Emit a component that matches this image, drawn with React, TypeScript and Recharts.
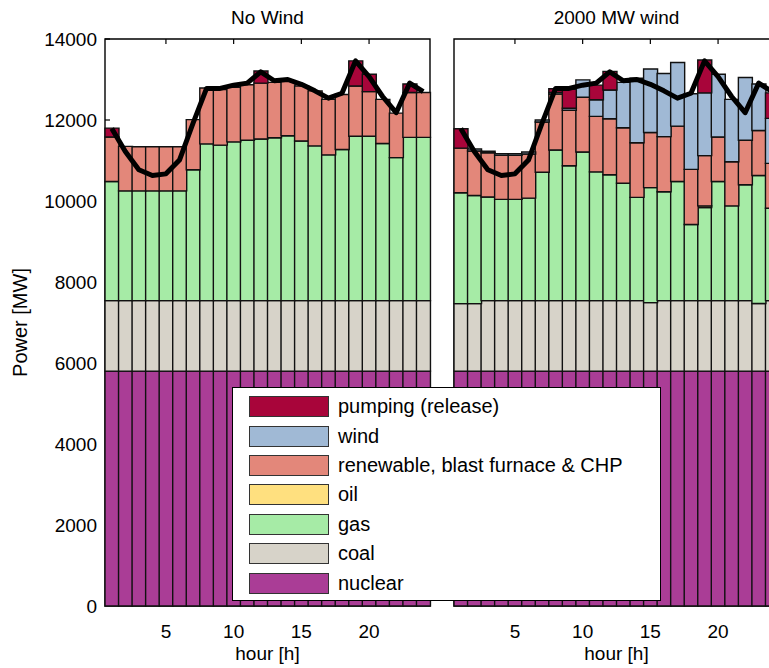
import { ComposedChart, Bar, Line, XAxis, YAxis, ReferenceArea, Legend } from 'recharts'

// hourly dispatch, MW per technology (stacked bottom-up)
const hours = [1, 2, 3, 4, 5, 6, 7, 8, 9, 10, 11, 12, 13, 14, 15, 16, 17, 18, 19, 20, 21, 22, 23, 24]

const nuclear = [5800, 5800, 5800, 5800, 5800, 5800, 5800, 5800, 5800, 5800, 5800, 5800, 5800, 5800, 5800, 5800, 5800, 5800, 5800, 5800, 5800, 5800, 5800, 5800]
const renewable = [1100, 1100, 1090, 1090, 1090, 1090, 1240, 1380, 1370, 1350, 1370, 1380, 1370, 1350, 1360, 1360, 1370, 1360, 1240, 1100, 1090, 1100, 1110, 1110]
const demand = [11790, 11220, 10770, 10630, 10670, 11010, 11920, 12780, 12780, 12860, 12910, 13190, 12970, 13000, 12880, 12720, 12540, 12660, 13460, 13070, 12580, 12180, 12910, 12700]

// scenario without wind
const coalNoWind = [1740, 1740, 1740, 1740, 1740, 1740, 1740, 1740, 1740, 1740, 1740, 1740, 1740, 1740, 1740, 1740, 1740, 1740, 1740, 1740, 1740, 1740, 1740, 1740]
const gasNoWind = [2940, 2710, 2710, 2710, 2710, 2710, 3230, 3870, 3840, 3920, 3960, 3990, 4020, 4070, 3940, 3820, 3600, 3730, 4060, 4060, 3880, 3530, 4030, 4030]
const oilNoWind = [0, 0, 0, 0, 0, 0, 0, 0, 0, 0, 0, 0, 0, 0, 0, 0, 0, 0, 0, 0, 0, 0, 0, 0]
const windNoWind = [0, 0, 0, 0, 0, 0, 0, 0, 0, 0, 0, 0, 0, 0, 0, 0, 0, 0, 0, 0, 0, 0, 0, 0]
const pumpNoWind = [220, 0, 0, 0, 0, 0, 0, 0, 0, 0, 0, 300, 0, 0, 0, 0, 0, 0, 620, 430, 0, 0, 210, 0]

// scenario with 2000 MW wind
const coalWind = [1665, 1665, 1740, 1740, 1740, 1740, 1740, 1740, 1740, 1740, 1740, 1740, 1740, 1740, 1690, 1740, 1740, 1740, 1740, 1740, 1740, 1740, 1670, 1740]
const gasWind = [2740, 2670, 2560, 2500, 2500, 2530, 3170, 3720, 3330, 3670, 3180, 3110, 2900, 2550, 2840, 2690, 2940, 1880, 2300, 2940, 2340, 2860, 3160, 2280]
const oilWind = [0, 0, 0, 0, 0, 0, 0, 0, 0, 0, 0, 0, 0, 0, 0, 0, 0, 0, 40, 0, 0, 0, 0, 0]
const windWind = [0, 50, 40, 40, 40, 50, 50, 40, 50, 430, 410, 710, 1120, 1590, 1570, 1560, 1570, 1870, 1550, 1550, 1540, 1550, 1150, 1110]
const pumpWind = [480, 0, 0, 0, 0, 0, 0, 90, 470, 0, 360, 460, 0, 0, 0, 0, 0, 0, 810, 0, 0, 0, 0, 630]

const yTicks = [0, 2000, 4000, 6000, 8000, 10000, 12000, 14000]
const xTicks = [5, 10, 15, 20]

const SERIES = [
  { key: 'nuclear', name: 'nuclear', color: '#aa3d96' },
  { key: 'coal', name: 'coal', color: '#d7d3c9' },
  { key: 'gas', name: 'gas', color: '#a6eba6' },
  { key: 'oil', name: 'oil', color: '#ffe07f' },
  { key: 'renewable', name: 'renewable, blast furnace & CHP', color: '#e3877a' },
  { key: 'wind', name: 'wind', color: '#a0b9d5' },
  { key: 'pump', name: 'pumping (release)', color: '#a8053a' },
]

const buildRows = (coal: number[], gas: number[], oil: number[], wind: number[], pump: number[]) =>
  hours.map((hour, i) => ({
    hour,
    nuclear: nuclear[i],
    coal: coal[i],
    gas: gas[i],
    oil: oil[i],
    renewable: renewable[i],
    wind: wind[i],
    pump: pump[i],
    demand: demand[i],
  }))

const noWindRows = buildRows(coalNoWind, gasNoWind, oilNoWind, windNoWind, pumpNoWind)
const windRows = buildRows(coalWind, gasWind, oilWind, windWind, pumpWind)

const FONT = '"Liberation Sans", Arial, Helvetica, sans-serif'
const H = 668
const PLOT_TOP = 39
const BOTTOM_AXIS = 62

// y ticks sit under the bars, so only the ones above the first stack show
const firstStack = noWindRows[0].nuclear + noWindRows[0].coal + noWindRows[0].gas + noWindRows[0].renewable + noWindRows[0].pump

const YTick = (props: any) => {
  const { x, y, payload } = props
  return (
    <g>
      <text x={x} y={y} dy="0.355em" textAnchor="end" fontSize={19} fill="#000">
        {payload.value}
      </text>
      {payload.value > firstStack && (
        <line x1={x + 8} x2={x + 13} y1={y} y2={y} stroke="#000" strokeWidth={1.2} />
      )}
    </g>
  )
}

const TopTick = (props: any) => {
  const { x, y } = props
  return <line x1={x} x2={x} y1={y} y2={y + 5} stroke="#000" strokeWidth={1.2} />
}

const renderLegend = () => (
  <div
    style={{
      boxSizing: 'border-box',
      width: 429,
      height: 214,
      background: '#fff',
      border: '1.5px solid #000',
      paddingTop: 4,
      fontFamily: FONT,
    }}
  >
    {SERIES.slice().reverse().map((s) => (
      <div key={s.key} style={{ display: 'flex', alignItems: 'center', height: 29.4 }}>
        <div
          style={{
            boxSizing: 'border-box',
            width: 80,
            height: 21,
            marginLeft: 16,
            marginRight: 9,
            background: s.color,
            border: '1px solid #333',
          }}
        />
        <span style={{ fontSize: 20, color: '#000' }}>{s.name}</span>
      </div>
    ))}
  </div>
)

type PanelProps = {
  title: string
  rows: ReturnType<typeof buildRows>
  width: number
  margin: { top: number; right: number; bottom: number; left: number }
  showY: boolean
  showLegend: boolean
}

const Panel = ({ title, rows, width, margin, showY, showLegend }: PanelProps) => (
  <ComposedChart width={width} height={H} data={rows} margin={margin} barCategoryGap={0} barGap={0}>
    <XAxis
      dataKey="hour"
      ticks={xTicks}
      interval={0}
      tickLine={false}
      axisLine={false}
      tickSize={0}
      tickMargin={19}
      height={BOTTOM_AXIS}
      tick={{ fill: '#000', fontSize: 19 }}
      label={(p: any) => (
        <text x={p.viewBox.x + p.viewBox.width / 2} y={p.viewBox.y + 54} textAnchor="middle" fontSize={19} fill="#000">
          hour [h]
        </text>
      )}
    />
    <XAxis
      xAxisId="top"
      orientation="top"
      dataKey="hour"
      ticks={xTicks}
      interval={0}
      tickLine={false}
      axisLine={false}
      tickSize={0}
      tickMargin={0}
      height={PLOT_TOP}
      tick={<TopTick />}
      label={(p: any) => (
        <text x={p.viewBox.x + p.viewBox.width / 2} y={p.viewBox.y + 24} textAnchor="middle" fontSize={19} fill="#000">
          {title}
        </text>
      )}
    />
    <YAxis
      domain={[0, 14000]}
      ticks={yTicks}
      interval={0}
      hide={!showY}
      width={105}
      tickLine={false}
      axisLine={false}
      tickSize={0}
      tickMargin={8}
      tick={<YTick />}
      label={(p: any) => (
        <text
          x={p.viewBox.x + 20}
          y={p.viewBox.y + p.viewBox.height / 2}
          transform={`rotate(-90 ${p.viewBox.x + 20} ${p.viewBox.y + p.viewBox.height / 2})`}
          textAnchor="middle"
          dominantBaseline="central"
          fontSize={20}
          fill="#000"
        >
          Power [MW]
        </text>
      )}
    />
    {SERIES.map((s) => (
      <Bar
        key={s.key}
        dataKey={s.key}
        name={s.name}
        stackId="mix"
        fill={s.color}
        stroke="#111"
        strokeWidth={1.4}
        isAnimationActive={false}
      />
    ))}
    <Line
      dataKey="demand"
      type="linear"
      stroke="#000"
      strokeWidth={5}
      strokeLinejoin="round"
      dot={false}
      legendType="none"
      isAnimationActive={false}
    />
    <ReferenceArea x1={1} x2={24} y1={0} y2={14000} fill="none" stroke="#000" strokeWidth={1.4} />
    {showLegend && (
      <Legend
        layout="horizontal"
        verticalAlign="middle"
        align="center"
        wrapperStyle={{ left: 232, top: 387, width: 429, height: 214 }}
        content={renderLegend}
      />
    )}
  </ComposedChart>
)

export default function App() {
  return (
    <div
      style={{
        position: 'fixed',
        left: 0,
        top: 0,
        width: 769,
        height: H,
        overflow: 'hidden',
        background: '#fff',
        fontFamily: FONT,
      }}
    >
      <div style={{ position: 'absolute', left: 440, top: 0, zIndex: 1 }}>
        <Panel
          title="2000 MW wind"
          rows={windRows}
          width={350}
          margin={{ top: 0, right: 11, bottom: 0, left: 14 }}
          showY={false}
          showLegend={false}
        />
      </div>
      <div style={{ position: 'absolute', left: 0, top: 0, zIndex: 2 }}>
        <Panel
          title="No Wind"
          rows={noWindRows}
          width={440}
          margin={{ top: 0, right: 10, bottom: 0, left: 0 }}
          showY={true}
          showLegend={true}
        />
      </div>
    </div>
  )
}
